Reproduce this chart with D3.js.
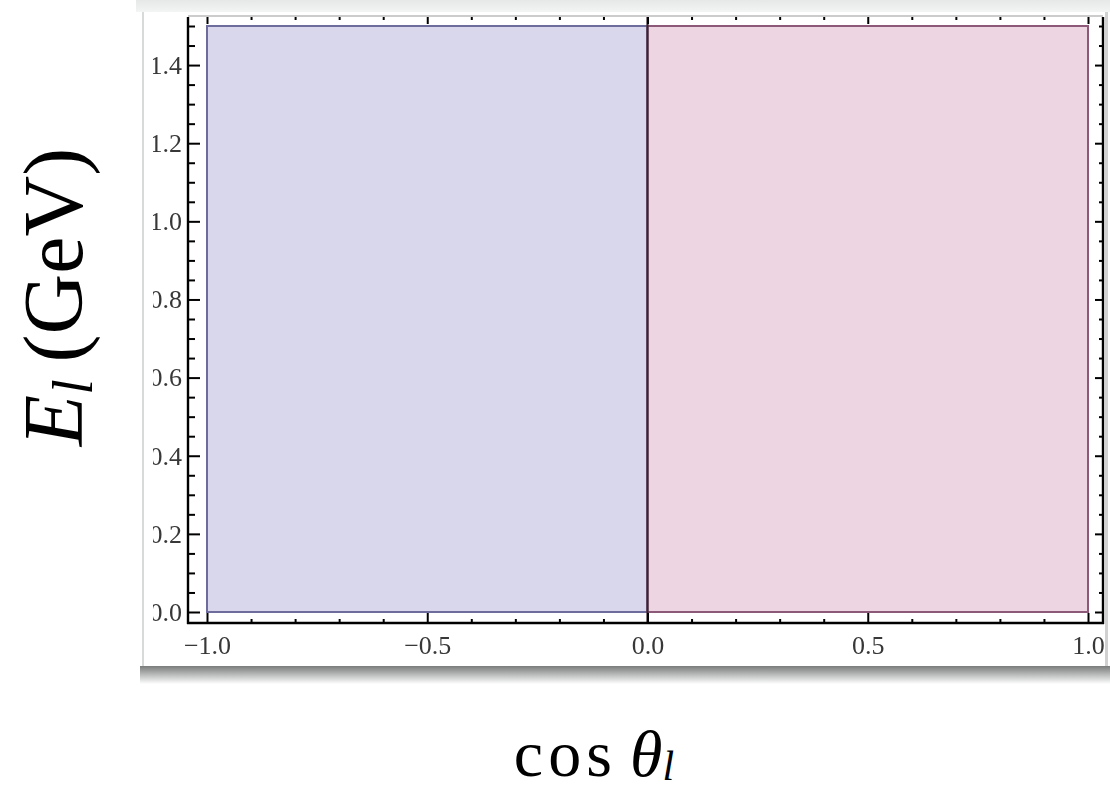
<!DOCTYPE html>
<html><head><meta charset="utf-8">
<script src="https://cdn.jsdelivr.net/npm/d3@7"></script>
<style>html,body{margin:0;padding:0;background:#fff;}svg{display:block;}</style>
</head><body>
<svg id="chart" width="1110" height="792"></svg>
<script>
// ---- data ----
const regionNames = ["cosθ < 0", "cosθ > 0"];
const regionCosMin = [-1.0, 0.0];
const regionCosMax = [0.0, 1.0];
const regionEMin = [0.0, 0.0];
const regionEMax = [1.5, 1.5];
const dividerCos = [0.0];
const xMajorTicks = [-1.0, -0.5, 0.0, 0.5, 1.0];
const yMajorTicks = [0.0, 0.2, 0.4, 0.6, 0.8, 1.0, 1.2, 1.4];
const xMinorStep = 0.1;
const yMinorStep = 0.05;

// ---- style ----
const fills = ["#d9d7eb", "#edd6e2"];
const strokes = ["#6e6c9c", "#8c5a78"];

const svg = d3.select("#chart");

// panel (screenshot-like) with shadows
const defs = svg.append("defs");
const gTop = defs.append("linearGradient").attr("id","shTop").attr("x1",0).attr("y1",0).attr("x2",0).attr("y2",1);
gTop.append("stop").attr("offset",0).attr("stop-color","#e6e8e8");
gTop.append("stop").attr("offset",1).attr("stop-color","#f3f4f4");
const gBot = defs.append("linearGradient").attr("id","shBot").attr("x1",0).attr("y1",0).attr("x2",0).attr("y2",1);
gBot.append("stop").attr("offset",0).attr("stop-color","#7a7c7c");
gBot.append("stop").attr("offset",0.35).attr("stop-color","#a8aaaa");
gBot.append("stop").attr("offset",1).attr("stop-color","#ffffff");
defs.append("clipPath").attr("id","panelClip").append("rect")
  .attr("x",153).attr("y",12).attr("width",952).attr("height",654);
defs.append("filter").attr("id","soft").append("feGaussianBlur").attr("stdDeviation",0.6);

svg.append("rect").attr("x",136).attr("y",0).attr("width",974).attr("height",12).attr("fill","url(#shTop)");
svg.append("rect").attr("x",140).attr("y",666).attr("width",970).attr("height",18).attr("fill","url(#shBot)");
svg.append("rect").attr("x",142).attr("y",12).attr("width",2).attr("height",654).attr("fill","#d8d9d9");
svg.append("rect").attr("x",1105).attr("y",12).attr("width",3).attr("height",654).attr("fill","#d0d2d2");
svg.append("rect").attr("x",144).attr("y",12).attr("width",961).attr("height",654).attr("fill","#ffffff");

const panel = svg.append("g").attr("clip-path","url(#panelClip)").append("g").attr("filter","url(#soft)");

const x = d3.scaleLinear().domain([-1, 1]).range([207, 1088]);
const y = d3.scaleLinear().domain([0, 1.5]).range([612, 26]);
const frame = {left: 188, right: 1103, top: 17, bottom: 623};

// regions
const regions = regionNames.map((n,i)=>({n, x0:regionCosMin[i], x1:regionCosMax[i], y0:regionEMin[i], y1:regionEMax[i], i}));
panel.selectAll("rect.region").data(regions).join("rect").attr("class","region")
  .attr("x", d=>x(d.x0)).attr("y", d=>y(d.y1))
  .attr("width", d=>x(d.x1)-x(d.x0)).attr("height", d=>y(d.y0)-y(d.y1))
  .attr("fill", d=>fills[d.i]).attr("stroke", d=>strokes[d.i]).attr("stroke-width",2);
panel.selectAll("line.div").data(dividerCos).join("line").attr("class","div")
  .attr("x1", d=>x(d)).attr("x2", d=>x(d)).attr("y1", frame.top).attr("y2", frame.bottom)
  .attr("stroke","#3a2434").attr("stroke-width",2.2);

// minor tick values
const xMinor = d3.range(-10, 11).map(k=>k*xMinorStep).filter(v=>!xMajorTicks.some(m=>Math.abs(m-v)<1e-9));
const yMinor = d3.range(0, 31).map(k=>k*yMinorStep).filter(v=>!yMajorTicks.some(m=>Math.abs(m-v)<1e-9));
const fmt = d3.format(".1f");

function styleAxis(g){
  g.select(".domain").remove();
  g.selectAll("line").attr("stroke","#000").attr("stroke-width",2);
  g.selectAll("text").attr("font-family","'Liberation Serif', serif").attr("font-size",26).attr("fill","#383838");
}
// left
panel.append("g").attr("transform",`translate(${frame.left},0)`)
  .call(d3.axisLeft(y).tickValues(yMajorTicks).tickSize(-12).tickPadding(6).tickFormat(fmt)).call(styleAxis);
panel.append("g").attr("transform",`translate(${frame.left},0)`)
  .call(d3.axisLeft(y).tickValues(yMinor).tickSize(-7).tickFormat("")).call(styleAxis);
// right
panel.append("g").attr("transform",`translate(${frame.right},0)`)
  .call(d3.axisRight(y).tickValues(yMajorTicks).tickSize(-8).tickFormat("")).call(styleAxis);
panel.append("g").attr("transform",`translate(${frame.right},0)`)
  .call(d3.axisRight(y).tickValues(yMinor).tickSize(-4).tickFormat("")).call(styleAxis);
// bottom
panel.append("g").attr("transform",`translate(0,${frame.bottom})`)
  .call(d3.axisBottom(x).tickValues(xMajorTicks).tickSize(-10).tickPadding(13).tickFormat(fmt)).call(styleAxis);
panel.append("g").attr("transform",`translate(0,${frame.bottom})`)
  .call(d3.axisBottom(x).tickValues(xMinor).tickSize(-4).tickFormat("")).call(styleAxis);
// top
panel.append("g").attr("transform",`translate(0,${frame.top})`)
  .call(d3.axisTop(x).tickValues(xMajorTicks).tickSize(-7).tickFormat("")).call(styleAxis);
panel.append("g").attr("transform",`translate(0,${frame.top})`)
  .call(d3.axisTop(x).tickValues(xMinor).tickSize(-3).tickFormat("")).call(styleAxis);

// frame
panel.append("line").attr("x1",frame.left).attr("x2",frame.left).attr("y1",frame.top).attr("y2",frame.bottom+1).attr("stroke","#000").attr("stroke-width",2.4);
panel.append("line").attr("x1",frame.left-1).attr("x2",frame.right+1).attr("y1",frame.bottom).attr("y2",frame.bottom).attr("stroke","#000").attr("stroke-width",2.4);
panel.append("line").attr("x1",frame.right).attr("x2",frame.right).attr("y1",frame.top).attr("y2",frame.bottom+1).attr("stroke","#000").attr("stroke-width",2.4);
panel.append("line").attr("x1",frame.left).attr("x2",frame.right).attr("y1",frame.top-1).attr("y2",frame.top-1).attr("stroke","#9a9a9a").attr("stroke-width",1.2);

// axis titles
const yt = svg.append("text").attr("transform","translate(82,297) rotate(-90)")
  .attr("text-anchor","middle").attr("font-family","'Liberation Serif', serif").attr("font-size",84).attr("fill","#000");
yt.append("tspan").attr("font-style","italic").text("E");
yt.append("tspan").attr("font-style","italic").attr("font-size",56).attr("dy",10).text("l");
yt.append("tspan").attr("dy",-10).text("\u2009(GeV)");

const xt = svg.append("text").attr("x",594).attr("y",776)
  .attr("text-anchor","middle").attr("font-family","'Liberation Serif', serif").attr("font-size",66).attr("fill","#000");
xt.append("tspan").attr("letter-spacing",5).text("cos");
xt.append("tspan").text("\u2009");
xt.append("tspan").attr("font-style","italic").text("θ");
xt.append("tspan").attr("font-style","italic").attr("font-size",42).attr("dy",4).text("l");
</script>
</body></html>
